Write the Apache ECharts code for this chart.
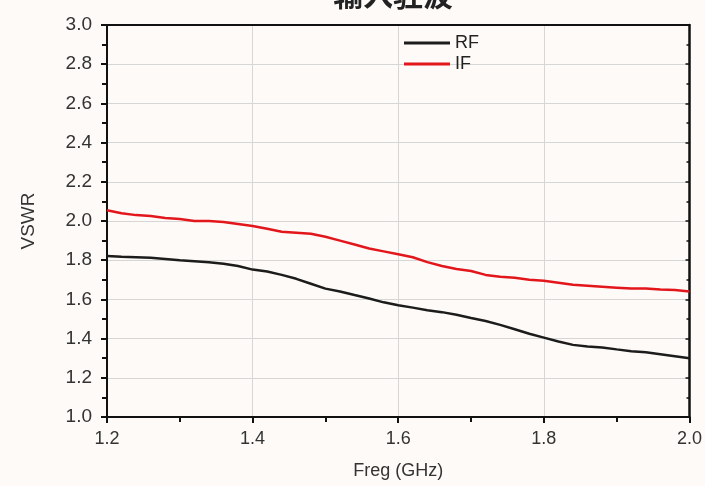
<!DOCTYPE html>
<html><head><meta charset="utf-8">
<script src="https://cdn.jsdelivr.net/npm/echarts@6/dist/echarts.min.js"></script>
<style>html,body{margin:0;padding:0;background:#fdfaf7}#c{width:705px;height:486px}</style>
</head><body><div id="c"></div>
<script>
const freq = [1.20,1.22,1.24,1.26,1.28,1.30,1.32,1.34,1.36,1.38,1.40,1.42,1.44,1.46,1.48,1.50,1.52,1.54,1.56,1.58,1.60,1.62,1.64,1.66,1.68,1.70,1.72,1.74,1.76,1.78,1.80,1.82,1.84,1.86,1.88,1.90,1.92,1.94,1.96,1.98,2.00];
const rf = [1.822,1.818,1.815,1.812,1.806,1.800,1.795,1.790,1.782,1.770,1.752,1.742,1.725,1.705,1.680,1.655,1.640,1.622,1.605,1.585,1.570,1.558,1.545,1.535,1.522,1.505,1.490,1.470,1.448,1.425,1.405,1.385,1.368,1.360,1.355,1.345,1.336,1.330,1.320,1.310,1.300];
const ifv = [2.055,2.040,2.030,2.025,2.015,2.010,2.000,2.000,1.995,1.985,1.975,1.960,1.945,1.940,1.935,1.920,1.900,1.880,1.860,1.845,1.830,1.815,1.790,1.770,1.755,1.745,1.725,1.715,1.710,1.700,1.695,1.685,1.675,1.670,1.665,1.660,1.655,1.655,1.650,1.648,1.640];
const titleText = '输入驻波';
const xName = 'Freg (GHz)';
const yName = 'VSWR';

const chart = echarts.init(document.getElementById('c'));
const fmt = v => v.toFixed(1);
const FF = 'Liberation Sans';
chart.setOption({
  backgroundColor: '#fdfaf7',
  animation: false,
  title: {text: titleText, left: 328, top: -25, textStyle: {fontSize: 30, fontWeight: 'bold', color: '#222', fontFamily: 'Noto Sans CJK SC'}},
  legend: {
    orient: 'vertical', left: 399, top: 29, itemGap: 3, itemWidth: 46, itemHeight: 3, icon: 'rect',
    textStyle: {fontSize: 18, color: '#222', fontFamily: FF, padding: [0, 0, 0, 0]},
    data: ['RF', 'IF']
  },
  grid: {left: 107, right: 14, top: 25, bottom: 69},
  xAxis: [{
    type: 'value', min: 1.2, max: 2.0, interval: 0.2,
    name: xName, nameLocation: 'middle', nameGap: 45,
    nameTextStyle: {fontSize: 18, color: '#333', fontFamily: FF},
    axisLine: {show: true, lineStyle: {color: '#111', width: 2}},
    axisTick: {show: true, length: 6, lineStyle: {color: '#111', width: 2}},
    minorTick: {show: true, splitNumber: 2, length: 5, lineStyle: {color: '#111', width: 2}},
    axisLabel: {formatter: fmt, fontSize: 18, color: '#333', margin: 13, fontFamily: FF},
    splitLine: {show: true, lineStyle: {color: '#d6d6d6', width: 1}}
  }, {
    type: 'value', position: 'top', min: 1.2, max: 2.0, interval: 0.2,
    axisLine: {show: true, onZero: false, lineStyle: {color: '#111', width: 2}},
    axisTick: {show: false}, axisLabel: {show: false}, splitLine: {show: false}
  }],
  yAxis: [{
    type: 'value', min: 1.0, max: 3.0, interval: 0.2,
    name: yName, nameLocation: 'middle', nameGap: 69,
    nameTextStyle: {fontSize: 19, color: '#333', fontFamily: FF},
    axisLine: {show: true, lineStyle: {color: '#111', width: 2}},
    axisTick: {show: true, length: 6, lineStyle: {color: '#111', width: 2}},
    minorTick: {show: true, splitNumber: 2, length: 5, lineStyle: {color: '#111', width: 2}},
    axisLabel: {formatter: fmt, fontSize: 19, color: '#333', margin: 15, fontFamily: FF},
    splitLine: {show: true, lineStyle: {color: '#d6d6d6', width: 1}}
  }, {
    type: 'value', position: 'right', min: 1.0, max: 3.0, interval: 0.2,
    axisLine: {show: true, onZero: false, lineStyle: {color: '#111', width: 2.5}},
    axisTick: {show: true, inside: true, length: 4, lineStyle: {color: '#111', width: 1.5}},
    minorTick: {show: true, splitNumber: 2, length: 3, lineStyle: {color: '#111', width: 1.5}},
    axisLabel: {show: false}, splitLine: {show: false}
  }],
  series: [{
    name: 'RF', type: 'line', showSymbol: false, symbol: 'none',
    data: freq.map((f, i) => [f, rf[i]]),
    lineStyle: {color: '#1c1c1c', width: 2.5}, itemStyle: {color: '#1c1c1c'}
  }, {
    name: 'IF', type: 'line', showSymbol: false, symbol: 'none',
    data: freq.map((f, i) => [f, ifv[i]]),
    lineStyle: {color: '#e3161c', width: 2.5}, itemStyle: {color: '#e3161c'}
  }]
});
</script></body></html>
